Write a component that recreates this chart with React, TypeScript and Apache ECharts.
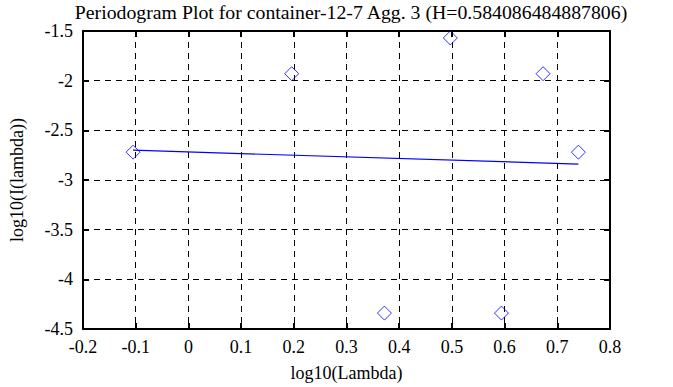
import React, { useEffect, useRef } from "react";
import * as echarts from "echarts";

const titleText = "Periodogram Plot for container-12-7 Agg. 3 (H=0.584086484887806)";
const xName = "log10(Lambda)";
const yName = "log10(I(lambda))";
const logLambda = [-0.105, 0.196, 0.372, 0.497, 0.594, 0.673, 0.74];
const logI = [-2.72, -1.93, -4.34, -1.57, -4.34, -1.93, -2.72];
const fitX = [-0.105, 0.74];
const fitY = [-2.7, -2.84];

const FONT = "'Liberation Serif', 'Times New Roman', serif";
const BLUE = "#0000ff";

export default function App() {
  const ref = useRef<HTMLDivElement>(null);
  useEffect(() => {
    if (!ref.current) return;
    const chart = echarts.init(ref.current, null, { renderer: "svg" });
    const fmt = (v: number) => String(parseFloat(v.toFixed(2)));
    const baseAxisLine = { show: true, onZero: false, lineStyle: { color: "#000", width: 2 } };
    const tick = { show: true, inside: true, length: 6, lineStyle: { color: "#000", width: 2 } };
    chart.setOption({
      animation: false,
      backgroundColor: "#fff",
      title: {
        text: titleText,
        left: 346,
        textAlign: "center",
        top: -3,
        textStyle: { fontFamily: FONT, fontSize: 19.8, fontWeight: "normal", color: "#000" },
      },
      grid: { left: 82, right: 63, top: 31, bottom: 57 },
      xAxis: [
        {
          type: "value",
          min: -0.2,
          max: 0.8,
          interval: 0.1,
          position: "bottom",
          name: xName,
          nameLocation: "middle",
          nameGap: 35,
          nameTextStyle: { fontFamily: FONT, fontSize: 18, color: "#000" },
          axisLine: baseAxisLine,
          axisTick: tick,
          axisLabel: { fontFamily: FONT, fontSize: 18, color: "#000", margin: 9, formatter: fmt },
          splitLine: { show: true, lineStyle: { color: "#000", type: [6, 5], width: 1 } },
        },
        {
          type: "value",
          min: -0.2,
          max: 0.8,
          interval: 0.1,
          position: "top",
          axisLine: baseAxisLine,
          axisTick: tick,
          axisLabel: { show: false },
          splitLine: { show: false },
        },
      ],
      yAxis: [
        {
          type: "value",
          min: -4.5,
          max: -1.5,
          interval: 0.5,
          position: "left",
          name: yName,
          nameLocation: "middle",
          nameGap: 57,
          nameTextStyle: { fontFamily: FONT, fontSize: 18, color: "#000" },
          axisLine: baseAxisLine,
          axisTick: tick,
          axisLabel: { fontFamily: FONT, fontSize: 18, color: "#000", margin: 10, formatter: fmt },
          splitLine: { show: true, lineStyle: { color: "#000", type: [6, 5], width: 1 } },
        },
        {
          type: "value",
          min: -4.5,
          max: -1.5,
          interval: 0.5,
          position: "right",
          axisLine: baseAxisLine,
          axisTick: tick,
          axisLabel: { show: false },
          splitLine: { show: false },
        },
      ],
      series: [
        {
          type: "line",
          data: fitX.map((x, i) => [x, fitY[i]]),
          showSymbol: false,
          lineStyle: { color: BLUE, width: 1.2 },
          z: 3,
        },
        {
          type: "scatter",
          data: logLambda.map((x, i) => [x, logI[i]]),
          symbol: "diamond",
          symbolSize: [14, 14],
          itemStyle: { color: "transparent", borderColor: BLUE, borderWidth: 1 },
          z: 4,
        },
      ],
    });
    return () => chart.dispose();
  }, []);
  return <div ref={ref} style={{ width: 673, height: 387, position: "absolute", left: 0, top: 0 }} />;
}
